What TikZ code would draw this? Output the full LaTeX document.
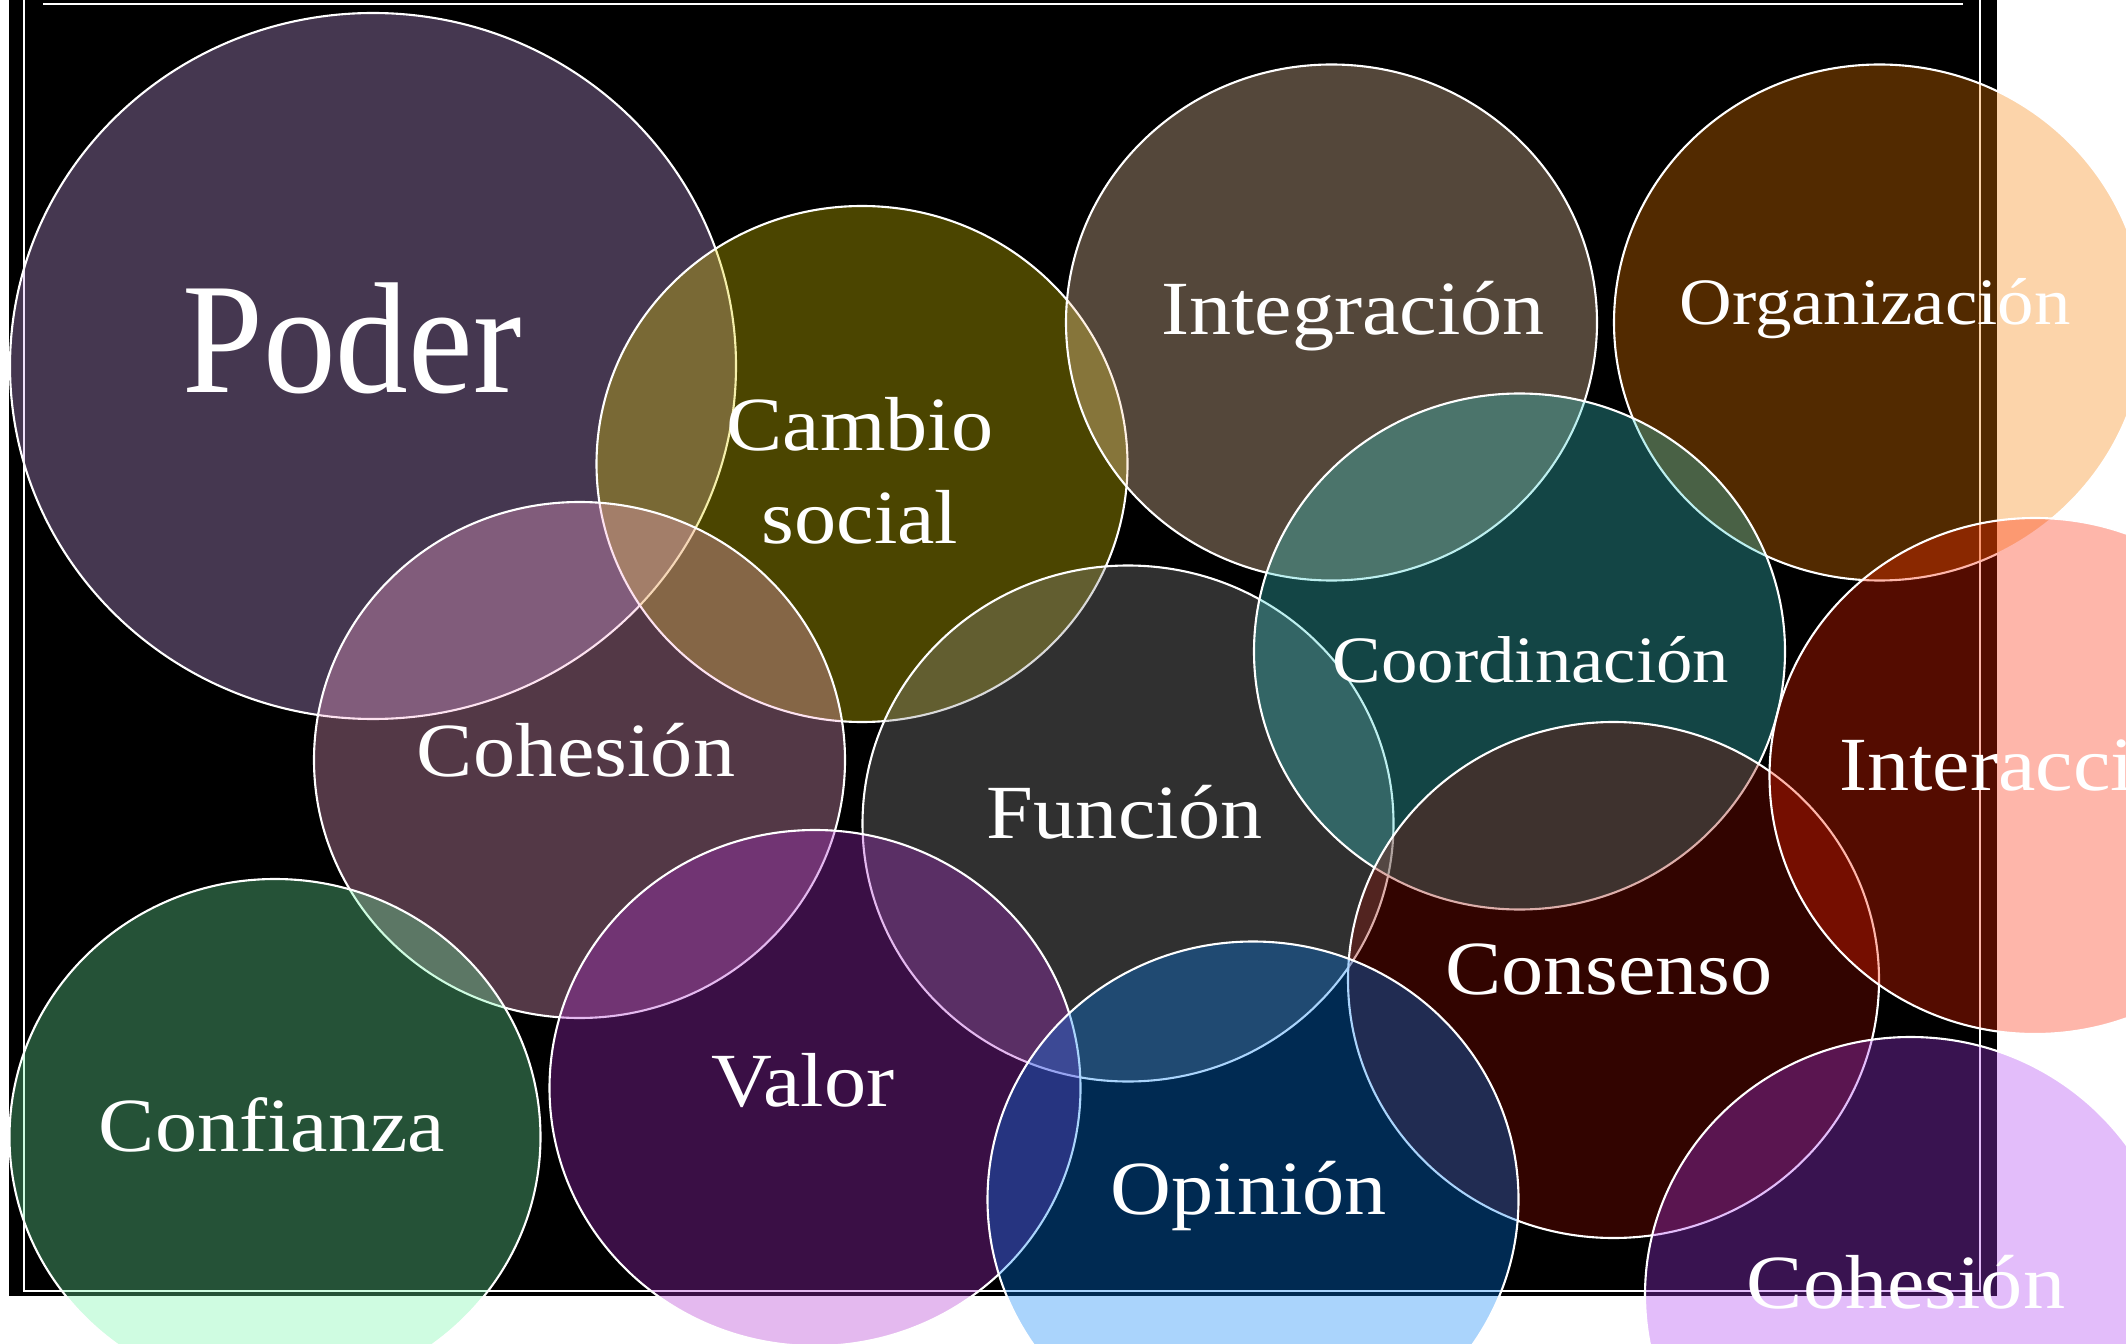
\documentclass[tikz,border=0pt]{standalone}
\usepackage{fontspec}
\setmainfont{Liberation Serif}[FakeStretch=1.1]
\newfontfamily\poderfont{Liberation Serif}[FakeStretch=0.92]
\definecolor{cPoder}{RGB}{207,165,240}
\definecolor{cCambio}{RGB}{225,207,0}
\definecolor{cInteg}{RGB}{252,213,174}
\definecolor{cOrgan}{RGB}{248,127,0}
\definecolor{cCoord}{RGB}{57,207,207}
\definecolor{cCohesA}{RGB}{249,168,210}
\definecolor{cFunc}{RGB}{144,144,144}
\definecolor{cInter}{RGB}{252,36,0}
\definecolor{cConsen}{RGB}{150,12,0}
\definecolor{cConf}{RGB}{111,246,165}
\definecolor{cValor}{RGB}{174,45,207}
\definecolor{cOpin}{RGB}{0,126,246}
\definecolor{cCohesB}{RGB}{171,57,240}
\begin{document}
\begin{tikzpicture}[x=0.02cm,y=-0.02cm,
  bubble/.style={draw=white, line width=1.2pt, fill opacity=0.333},
  frameline/.style={draw=white, line width=0.8pt},
  lbl/.style={text=white, inner sep=0pt, anchor=base, font=\fontsize{43.6}{52.7}\selectfont},
  lblsmall/.style={lbl, font=\fontsize{37.7}{45}\selectfont}]
\useasboundingbox (0,0) rectangle (2126,1344);
\fill[white] (0,0) rectangle (2126,1344);
\fill[black] (9,0) rectangle (1997,1296);
\draw[frameline] (24,0) -- (24,1291) -- (1980,1291) -- (1980,0);
\draw[frameline] (43,4) -- (1963,4);
% bubbles
\draw[bubble, fill=cPoder]  (373,366) ellipse [x radius=363, y radius=353];
\draw[bubble, fill=cCambio] (862,464) ellipse [x radius=265.5, y radius=258];
\draw[bubble, fill=cInteg]  (1331.5,322.5) ellipse [x radius=265.5, y radius=258];
\draw[bubble, fill=cOrgan]  (1879.5,322.5) ellipse [x radius=265.5, y radius=258];
\draw[bubble, fill=cCohesA] (579.5,760) ellipse [x radius=265.5, y radius=258];
\draw[bubble, fill=cFunc]   (1128,823.5) ellipse [x radius=265.5, y radius=258];
\draw[bubble, fill=cCoord]  (1519.5,651.5) ellipse [x radius=265.5, y radius=258];
\draw[bubble, fill=cConsen] (1613.5,980) ellipse [x radius=265.5, y radius=258];
\draw[bubble, fill=cInter]  (2035,776) ellipse [x radius=265.5, y radius=258];
\draw[bubble, fill=cConf]   (275,1137) ellipse [x radius=265.5, y radius=258];
\draw[bubble, fill=cValor]  (815,1088) ellipse [x radius=265.5, y radius=258];
\draw[bubble, fill=cOpin]   (1253,1199.5) ellipse [x radius=265.5, y radius=258];
\draw[bubble, fill=cCohesB] (1910.5,1295) ellipse [x radius=265.5, y radius=258];
% labels
\node[lbl, font=\poderfont\fontsize{90}{100}\selectfont] (tPoder) at (352,393) {Poder};
\node[lbl, align=center] (tCambio) at (860,543) {Cambio\\social};
\node[lbl] (tInteg) at (1353,335) {Integración};
\node[lblsmall] (tOrgan) at (1875,325) {Organización};
\node[lblsmall] (tCoord) at (1531,682) {Coordinación};
\node[lbl] (tCohesA) at (576,776) {Cohesión};
\node[lbl] (tFunc) at (1125,838) {Función};
\node[lbl, anchor=base west] (tInter) at (1839,790) {Interacción};
\node[lbl] (tConsen) at (1609,994) {Consenso};
\node[lbl] (tConf) at (272,1151) {Confianza};
\node[lbl] (tValor) at (803,1106) {Valor};
\node[lbl] (tOpin) at (1249,1214) {Opinión};
\node[lbl] (tCohesB) at (1906,1308) {Cohesión};
\end{tikzpicture}
\end{document}
